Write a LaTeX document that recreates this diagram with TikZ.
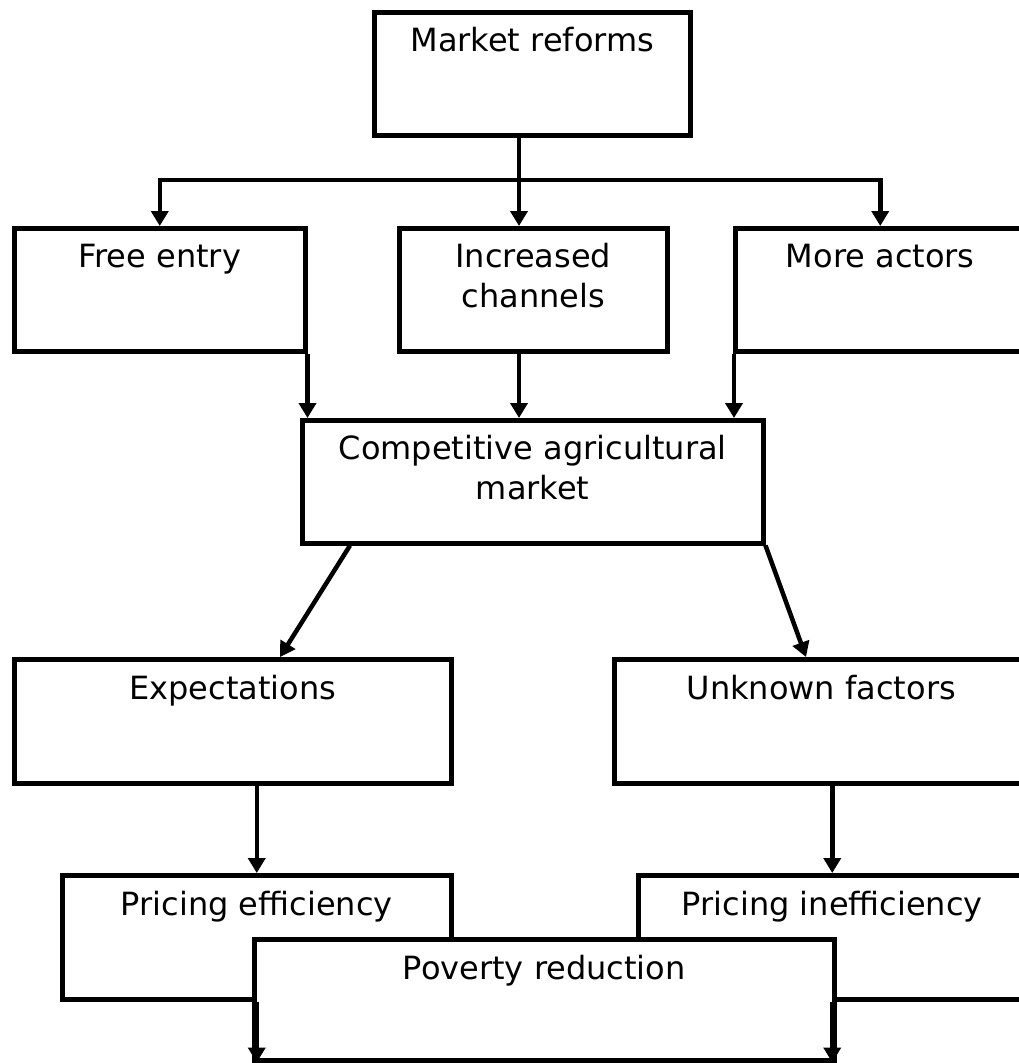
\documentclass[tikz,border=0pt]{standalone}
\usepackage{fontspec}
\setmainfont{DejaVu Sans}
\usetikzlibrary{arrows.meta}

\begin{document}
\begin{tikzpicture}[
x=1pt, y=-1pt,
line width=4.5pt,
box/.style={draw=black, fill=white, inner sep=0pt, anchor=north west},
lbl/.style={anchor=base, align=center, inner sep=0pt, font=\fontsize{32}{40}\selectfont},
arr/.style={-{Triangle[length=15pt,width=17pt]}}
]
\useasboundingbox (0,0) rectangle (1018,1063);

\node[box, minimum width=316pt, minimum height=123pt] (mr) at (372,10) {};
\node[lbl] (mr-t) at ([yshift=-41pt]mr.north) {Market reforms};

\node[box, minimum width=291pt, minimum height=123pt] (fe) at (12,226) {};
\node[lbl] (fe-t) at ([yshift=-41pt]fe.north) {Free entry};
\node[box, minimum width=268pt, minimum height=123pt] (ic) at (397,226) {};
\node[lbl] (ic-t) at ([yshift=-81pt]ic.north) {Increased\\channels};
\node[box, minimum width=290pt, minimum height=123pt] (ma) at (733,226) {};
\node[lbl] (ma-t) at ([yshift=-41pt]ma.north) {More actors};

\node[box, minimum width=461pt, minimum height=123pt] (cam) at (300,418) {};
\node[lbl] (cam-t) at ([yshift=-81pt]cam.north) {Competitive agricultural\\market};

\node[box, minimum width=437pt, minimum height=124pt] (ex) at (12,657) {};
\node[lbl] (ex-t) at ([yshift=-42pt]ex.north) {Expectations};
\node[box, minimum width=414pt, minimum height=124pt] (uf) at (612,657) {};
\node[lbl] (uf-t) at ([yshift=-42pt]uf.north) {Unknown factors};

\node[box, minimum width=389pt, minimum height=124pt] (pe) at (60,873) {};
\node[lbl] (pe-t) at ([yshift=-42pt]pe.north) {Pricing efficiency};
\node[box, minimum width=388pt, minimum height=124pt] (pi) at (636,873) {};
\node[lbl] (pi-t) at ([yshift=-42pt]pi.north) {Pricing inefficiency};

\node[box, minimum width=580pt, minimum height=121pt] (pr) at (252,937) {};
\node[lbl] (pr-t) at ([yshift=-42pt]pr.north) {Poverty reduction};

\coordinate (trunk) at (519,180);
\draw (mr.south -| trunk) -- (trunk);
\draw[arr] (trunk) -- (ic.north -| trunk);
\draw[arr] (trunk) -| (fe.north);
\draw[arr] (trunk) -| (ma.north);

\draw[arr] (fe.south east) -- (fe.south east |- cam.north);
\draw[arr] (ic.south -| trunk) -- (cam.north -| trunk);
\draw[arr] ([xshift=1pt]ma.south west) -- ([xshift=1pt]ma.south west |- cam.north);

\draw[arr] ([xshift=50pt]cam.south west) -- ([xshift=268pt]ex.north west);
\draw[arr] (cam.south east) -- ([xshift=194pt]uf.north west);

\draw[arr] (ex.south -| pe.north) -- (pe.north);
\draw[arr] (uf.south -| pi.north) -- (pi.north);

\draw[arr] (pe.south) -- (pe.south |- pr.south);
\draw[arr] (pi.south) -- (pi.south |- pr.south);
\end{tikzpicture}
\end{document}
